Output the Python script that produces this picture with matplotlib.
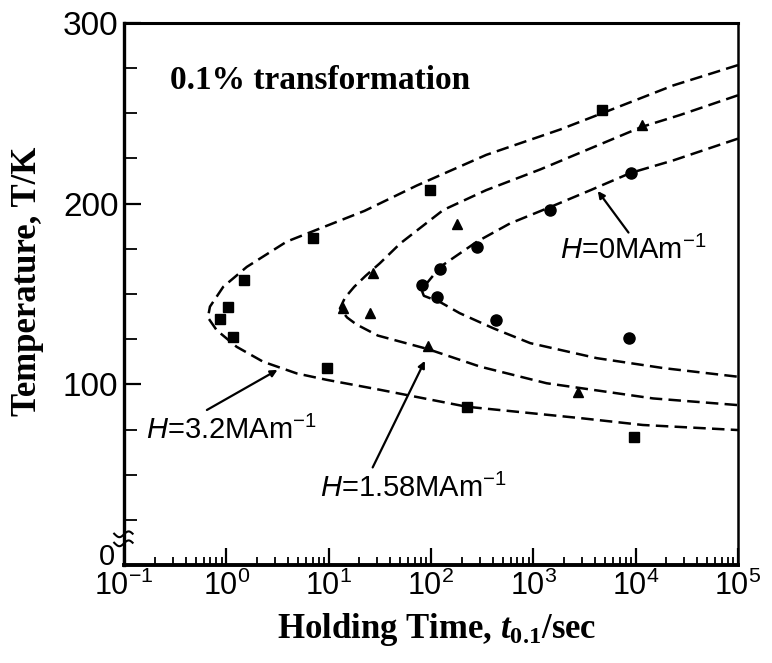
import numpy as np
import matplotlib
matplotlib.use('Agg')
import matplotlib.pyplot as plt
import matplotlib.transforms as mtransforms

plt.rcParams['font.family'] = ['Liberation Sans', 'DejaVu Sans']
plt.rcParams['mathtext.fontset'] = 'custom'
plt.rcParams['mathtext.rm'] = 'Liberation Sans'
plt.rcParams['mathtext.it'] = 'Liberation Sans:italic'
plt.rcParams['mathtext.bf'] = 'Liberation Serif:bold'
plt.rcParams['mathtext.bfit'] = 'Liberation Serif:italic:bold'

# --- data (log10 of time in s, temperature in K) ---
# measured points
sq_logt = [0.85, 0.175, 0.017, -0.06, 0.065, 0.98, 1.99, 3.67, 2.35, 3.98]
sq_T = [181, 158, 143, 136, 126, 109, 207.5, 252, 87.6, 71]

tri_logt = [1.14, 1.43, 1.40, 2.25, 1.97, 3.44, 4.06]
tri_T = [142, 161.6, 139.5, 189, 121, 96, 243.5]

circ_logt = [1.91, 2.06, 2.09, 2.45, 3.16, 3.95, 2.64, 3.93]
circ_T = [155, 148.5, 164, 176, 196.5, 216.8, 135.6, 125.4]

# fitted C-curves (dashed), upper branch -> nose -> lower branch
c32_logt = [5, 4.37, 3.67, 3.26, 2.54, 1.86, 1.35, 0.59, 0.2, -0.03, -0.16, -0.18,
            -0.095, 0.1, 0.36, 0.69, 0.98, 1.5, 2.35, 3.46, 4.07, 5]
c32_T = [276.7, 265.5, 250, 241, 227, 210, 196, 179, 165, 154, 143, 137,
         130, 120.8, 112.5, 106, 102.5, 97, 87.6, 81.3, 77.5, 74.7]

c158_logt = [5, 4.43, 4.06, 3.07, 2.54, 2.12, 1.7, 1.5, 1.36, 1.25, 1.16, 1.11,
             1.18, 1.27, 1.48, 1.97, 2.48, 3.13, 4.17, 5]
c158_T = [260, 249, 242.5, 219, 207.5, 196.5, 178, 167, 160, 154, 148, 142,
          137, 133.2, 127, 119.5, 109.8, 100.6, 92.2, 88.5]

c0_logt = [5, 4.37, 3.95, 3.56, 3.16, 2.77, 2.45, 2.09, 1.96, 1.91, 1.93,
           2.09, 2.28, 2.61, 2.97, 3.62, 4.27, 5]
c0_T = [236, 224, 217, 207.5, 198, 189, 179, 165, 156, 152, 149,
        145.5, 139.4, 131, 122.8, 114.5, 109, 104.2]

fig = plt.figure(figsize=(7.72, 6.63), dpi=100)
ax = fig.add_axes([124 / 772, 1 - 565 / 663, 614 / 772, 542 / 663])

dash = (5, 2.5)
for lx, ty in [(c32_logt, c32_T), (c158_logt, c158_T), (c0_logt, c0_T)]:
    ax.plot(10.0 ** np.array(lx), ty, color='black', lw=1.8, dashes=dash)

ax.plot(10.0 ** np.array(sq_logt), sq_T, 's', color='black', ms=7, ls='none')
ax.plot(10.0 ** np.array(tri_logt), tri_T, '^', color='black', ms=7, ls='none')
ax.plot(10.0 ** np.array(circ_logt), circ_T, 'o', color='black', ms=8, ls='none')

ax.set_xscale('log')
ax.set_xlim(1e-1, 1e5)
ax.set_ylim(0, 300)
ax.set_yticks([0, 100, 200, 300])
ax.set_yticks(np.arange(25, 300, 25), minor=True)
ax.set_xticks([10.0 ** k for k in range(-1, 6)])
ax.tick_params(axis='both', which='major', direction='in', length=12, width=1.6, pad=4)
ax.tick_params(axis='x', which='major', labelsize=22)
ax.tick_params(axis='y', which='major', labelsize=24)
ax.tick_params(axis='both', which='minor', direction='in', length=6, width=1.3)
ax.tick_params(axis='y', which='minor', length=9)
for side, w in [('left', 2.4), ('bottom', 2.8), ('top', 2.2), ('right', 1.8)]:
    ax.spines[side].set_linewidth(w)

# lift the "0" label clear of the 10^-1 label
zero_lab = ax.yaxis.get_major_ticks()[0].label1
zero_lab.set_fontsize(21)
zero_lab.set_transform(zero_lab.get_transform() +
                       mtransforms.ScaledTranslation(-3 / 100, 11 / 100, fig.dpi_scale_trans))

# axis break mark (two small waves across the left spine)
trans = mtransforms.blended_transform_factory(ax.transAxes, ax.transData)
wx = np.linspace(-0.016, 0.014, 25)
for y0 in (12, 17):
    ax.plot(wx, y0 + 1.6 * np.sin(wx / 0.015 * np.pi), color='black', lw=1.5,
            transform=trans, clip_on=False)

ax.text(10 ** -0.55, 268, '0.1% transformation', family='Liberation Serif',
        fontweight='bold', fontsize=24, ha='left', va='center')

arrow = dict(arrowstyle='-|>', color='black', lw=1.6, mutation_scale=10, shrinkA=0, shrinkB=0)
ax.annotate('', xy=(10 ** 3.63, 207), xytext=(10 ** 3.93, 184), arrowprops=arrow)
ax.text(10 ** 3.98, 174, r'$H$=0MAm$^{-1}$', fontsize=21, ha='center', va='center')
ax.annotate('', xy=(10 ** 0.5, 108), xytext=(10 ** -0.19, 85.8), arrowprops=arrow)
ax.text(10 ** 0.05, 74.7, r'$H$=3.2MAm$^{-1}$', fontsize=21, ha='center', va='center')
ax.annotate('', xy=(10 ** 1.94, 113), xytext=(10 ** 1.43, 54), arrowprops=arrow)
ax.text(10 ** 1.83, 42.6, r'$H$=1.58MAm$^{-1}$', fontsize=21, ha='center', va='center')

fig.text(437 / 772, 1 - 630 / 663, r'Holding Time, $\mathbfit{t}_{\mathbf{0.1}}$/sec',
         family='Liberation Serif', fontweight='bold', fontsize=25, ha='center', va='center')
fig.text(28 / 772, 1 - 281 / 663, 'Temperature, T/K', family='Liberation Serif',
         fontweight='bold', fontsize=25, rotation=90, ha='center', va='center')

fig.savefig('out.png', dpi=100)
